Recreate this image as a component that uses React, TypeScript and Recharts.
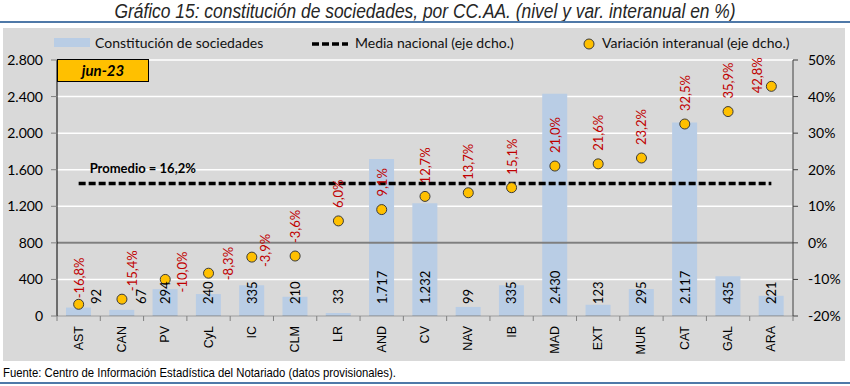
import React from "react";
import {
  Bar,
  CartesianGrid,
  ComposedChart,
  LabelList,
  Line,
  ReferenceLine,
  XAxis,
  YAxis,
} from "recharts";

const categories = ["AST", "CAN", "PV", "CyL", "IC", "CLM", "LR", "AND", "CV", "NAV", "IB", "MAD", "EXT", "MUR", "CAT", "GAL", "ARA"];
const sociedades = [92, 67, 294, 240, 335, 210, 33, 1717, 1232, 99, 335, 2430, 123, 295, 2117, 435, 221];
const variacion = [-16.8, -15.4, -10.0, -8.3, -3.9, -3.6, 6.0, 9.1, 12.7, 13.7, 15.1, 21.0, 21.6, 23.2, 32.5, 35.9, 42.8];
const mediaNacional = 16.2;
const leftTicks = [0, 400, 800, 1200, 1600, 2000, 2400, 2800];
const rightTicks = [-20, -10, 0, 10, 20, 30, 40, 50];

const data = categories.map((cat, i) => ({
  cat,
  soc: sociedades[i],
  vari: variacion[i],
  media: mediaNacional,
}));

// label nudges (dx, start offset from dot) where the original moves them aside
const varShift: Record<string, [number, number]> = {
  AST: [0, -6],
  CAN: [10, -8],
  PV: [17, 13],
  CyL: [19, 7],
  IC: [13, 10],
  ARA: [-14, 7],
};
const socShift: Record<string, number> = { AST: 17, CAN: 19 };

const CAL = "Lato, 'Noto Sans', sans-serif";
const ARIAL = "'Liberation Sans', Arial, sans-serif";
const BAND = 736 / categories.length;

const fmtMiles = (v: number) => v.toLocaleString("de-DE");
const fmtPct = (v: number) => v.toFixed(1).replace(".", ",") + "%";

const XTick = (props: any) => {
  const { x, y, payload, index } = props;
  const last = index === categories.length - 1;
  return (
    <g>
      <line x1={x - BAND / 2} x2={x - BAND / 2} y1={y} y2={y + 5} stroke="#808080" />
      {last && <line x1={x + BAND / 2} x2={x + BAND / 2} y1={y} y2={y + 5} stroke="#808080" />}
      <text
        transform={`translate(${x},${y + 10}) rotate(-90)`}
        textAnchor="end"
        dominantBaseline="central"
        fontFamily={ARIAL}
        fontSize={12.5}
        fill="#000"
      >
        {payload.value}
      </text>
    </g>
  );
};

const SocLabel = (props: any) => {
  const { x, y, width, height, value, index } = props;
  const cx = x + width / 2 + (socShift[categories[index]] || 0);
  const by = y + height - 12;
  return (
    <text
      transform={`translate(${cx},${by}) rotate(-90)`}
      textAnchor="start"
      dominantBaseline="central"
      fontFamily={CAL}
      fontSize={13}
      fill="#000"
    >
      {fmtMiles(value)}
    </text>
  );
};

const VarLabel = (props: any) => {
  const { x, y, value, index } = props;
  const [dx, dy] = varShift[categories[index]] || [0, -13];
  return (
    <text
      transform={`translate(${x + dx},${y + dy}) rotate(-90)`}
      textAnchor="start"
      dominantBaseline="central"
      fontFamily={CAL}
      fontSize={13}
      fill="#C00000"
    >
      {fmtPct(value)}
    </text>
  );
};

const MediaLabel = (props: any) => {
  const { x, y, index } = props;
  if (index !== 0) return null;
  return (
    <text x={x + 11} y={y - 11} fontFamily={CAL} fontWeight={700} fontSize={13} fill="#000">
      Promedio = {fmtPct(mediaNacional)}
    </text>
  );
};

export default function App() {
  return (
    <div style={{ position: "fixed", left: 0, top: 0, width: 850, height: 386, background: "#fff" }}>
      <div
        style={{
          position: "absolute",
          top: 0,
          left: 0,
          width: 850,
          textAlign: "center",
          fontFamily: ARIAL,
          fontStyle: "italic",
          fontSize: 20,
          color: "#262626",
          transform: "scaleX(0.87)",
          transformOrigin: "425px 0",
          whiteSpace: "nowrap",
        }}
      >
        Gráfico 15: constitución de sociedades, por CC.AA. (nivel y var. interanual en %)
      </div>
      <div style={{ position: "absolute", top: 21, left: 0, width: 850, height: 2, background: "#4F79A8" }} />
      <div style={{ position: "absolute", top: 28, left: 3, width: 842, height: 333, background: "#D9D9D9" }} />

      {/* legend */}
      <div style={{ position: "absolute", top: 38, left: 54, width: 36, height: 9, background: "#B9CDE5" }} />
      <div style={{ position: "absolute", top: 34, left: 95, fontFamily: CAL, fontSize: 14, color: "#111" }}>
        Constitución de sociedades
      </div>
      <svg style={{ position: "absolute", top: 38, left: 310 }} width={40} height={12}>
        <line x1={2} x2={38} y1={6} y2={6} stroke="#000" strokeWidth={3.5} strokeDasharray="7 3" />
      </svg>
      <div style={{ position: "absolute", top: 34, left: 355, fontFamily: CAL, fontSize: 14, color: "#111" }}>
        Media nacional (eje dcho.)
      </div>
      <svg style={{ position: "absolute", top: 37, left: 582 }} width={14} height={14}>
        <circle cx={7} cy={7} r={5} fill="#FFC000" stroke="#3a3a3a" />
      </svg>
      <div style={{ position: "absolute", top: 34, left: 602, fontFamily: CAL, fontSize: 14, color: "#111" }}>
        Variación interanual (eje dcho.)
      </div>

      <div style={{ position: "absolute", top: 0, left: 0 }}>
        <ComposedChart width={850} height={386} data={data} margin={{ top: 60, right: 7, bottom: 20, left: 7 }}>
          <CartesianGrid yAxisId="left" vertical={false} stroke="#FFFFFF" strokeWidth={1.5} />
          <XAxis
            dataKey="cat"
            height={50}
            interval={0}
            tickLine={false}
            tickSize={0}
            tickMargin={0}
            tick={<XTick />}
            axisLine={{ stroke: "#808080" }}
          />
          <YAxis
            yAxisId="left"
            width={50}
            domain={[0, 2800]}
            ticks={leftTicks}
            tickFormatter={fmtMiles}
            tickSize={6}
            tickMargin={8}
            axisLine={{ stroke: "#000" }}
            tickLine={{ stroke: "#808080" }}
            tick={{ fontFamily: CAL, fontSize: 14, fill: "#000" }}
          />
          <YAxis
            yAxisId="right"
            orientation="right"
            width={50}
            domain={[-20, 50]}
            ticks={rightTicks}
            tickFormatter={(v: number) => `${v}%`}
            tickSize={5}
            tickMargin={10}
            axisLine={{ stroke: "#404040" }}
            tickLine={{ stroke: "#404040" }}
            tick={{ fontFamily: CAL, fontSize: 14, fill: "#000" }}
          />
          <ReferenceLine yAxisId="right" y={0} stroke="#7F7F7F" strokeWidth={2} />
          <Bar yAxisId="left" dataKey="soc" barSize={25} fill="#B9CDE5" isAnimationActive={false}>
            <LabelList dataKey="soc" content={<SocLabel />} />
          </Bar>
          <Line
            yAxisId="right"
            dataKey="media"
            stroke="#000"
            strokeWidth={3.5}
            strokeDasharray="7 3"
            dot={false}
            activeDot={false}
            isAnimationActive={false}
          >
            <LabelList dataKey="media" content={<MediaLabel />} />
          </Line>
          <Line
            yAxisId="right"
            dataKey="vari"
            stroke="none"
            strokeWidth={0}
            dot={{ r: 5, fill: "#FFC000", stroke: "#3a3a3a", strokeWidth: 1 }}
            activeDot={false}
            isAnimationActive={false}
          >
            <LabelList dataKey="vari" content={<VarLabel />} />
          </Line>
        </ComposedChart>
      </div>

      <div
        style={{
          position: "absolute",
          top: 365,
          left: 3,
          fontFamily: ARIAL,
          fontSize: 13,
          color: "#000",
          transform: "scaleX(0.87)",
          transformOrigin: "0 0",
          whiteSpace: "nowrap",
        }}
      >
        Fuente: Centro de Información Estadística del Notariado (datos provisionales).
      </div>
      <div style={{ position: "absolute", top: 382, left: 0, width: 850, height: 2, background: "#4F79A8" }} />

      {/* period box */}
      <div
        style={{
          position: "absolute",
          top: 59,
          left: 57,
          width: 92,
          height: 23,
          background: "#FFC000",
          border: "1px solid #000",
          boxSizing: "border-box",
          textAlign: "center",
          lineHeight: "21px",
          fontFamily: CAL,
          fontWeight: 700,
          fontStyle: "italic",
          fontSize: 15,
          color: "#000",
        }}
      >
        jun-23
      </div>
    </div>
  );
}
